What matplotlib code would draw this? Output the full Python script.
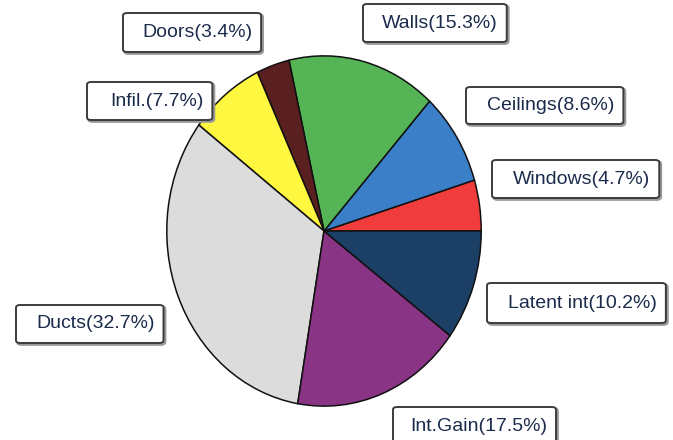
#!/usr/bin/env python3
"""Heating load breakdown pie with boxed labels."""

import matplotlib
matplotlib.use("Agg")
import matplotlib.pyplot as plt
from matplotlib.patches import FancyBboxPatch

# slice order: counter-clockwise from 3 o'clock
categories = ["Windows", "Ceilings", "Walls", "Doors", "Infil.", "Ducts", "Int.Gain", "Latent int"]
shares = [4.7, 8.6, 15.3, 3.4, 7.7, 32.7, 17.5, 10.2]
colors = ["#f03c3c", "#3a7fc8", "#55b455", "#5a1f1f", "#fff740", "#dcdcdc", "#8a3485", "#1c3f66"]

# label boxes in pixels: (box left, box top, box bottom, text left)
W, H = 673, 440
label_boxes = {
    "Windows": (492, 160, 198, 513),
    "Ceilings": (466, 87, 124, 487),
    "Walls": (363, 4, 42, 382),
    "Doors": (123, 13, 52, 142),
    "Infil.": (87, 82, 120, 110),
    "Ducts": (16, 305, 343, 36),
    "Int.Gain": (393, 407, 445, 410),
    "Latent int": (487, 283, 323, 508),
}

plt.rcParams["font.family"] = ["Liberation Sans", "DejaVu Sans"]
fig = plt.figure(figsize=(W / 100, H / 100), dpi=100)

# pie bounding box (slightly elliptical in the scan)
left, right, top, bottom = 166, 482, 55, 407
ax = fig.add_axes([left / W, 1 - bottom / H, (right - left) / W, (bottom - top) / H])
ax.pie(shares, colors=colors, startangle=0, counterclock=True, radius=1,
       wedgeprops={"edgecolor": "#111111", "linewidth": 1.1})
ax.set_aspect("auto")
ax.set_xlim(-1.005, 1.005)
ax.set_ylim(-1.005, 1.005)
ax.axis("off")

renderer = fig.canvas.get_renderer()
for name, pct in zip(categories, shares):
    bx, btop, bbot, tx = label_boxes[name]
    cy = (btop + bbot) / 2
    t = fig.text(tx / W, 1 - cy / H, f"{name}({pct}%)", ha="left", va="center",
                 fontsize=14, color="#1b2b4b", zorder=5)
    ext = t.get_window_extent(renderer)
    bw = ext.x1 + 9 - bx
    bh = bbot - btop
    for off, col, lw in ((1.5, "#9a9a9a", 2.0), (0, "#3c3c3c", 1.4)):
        box = FancyBboxPatch(((bx + off) / W, 1 - (bbot + off) / H), bw / W, bh / H,
                             boxstyle="round,pad=0,rounding_size=0.006",
                             transform=fig.transFigure, facecolor="white",
                             edgecolor=col, linewidth=lw, zorder=3 if off else 4)
        fig.add_artist(box)

fig.savefig("out.png", dpi=100)
